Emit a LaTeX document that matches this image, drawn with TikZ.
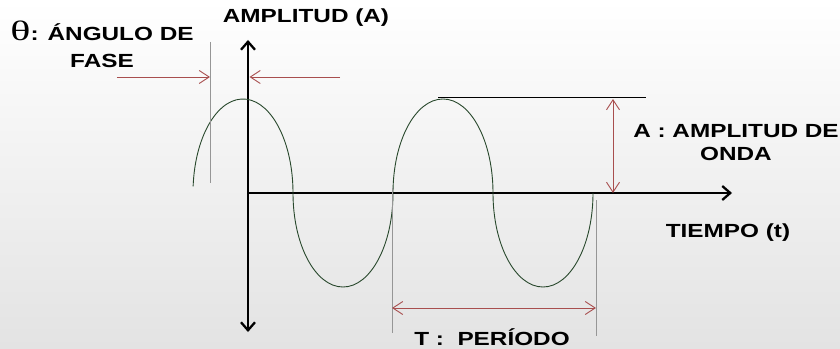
\documentclass[tikz,border=0pt]{standalone}
\usepackage{fontspec}
\setmainfont{Liberation Sans}
\newfontfamily\lblfont[FakeStretch=1.28]{Liberation Sans}
\newfontfamily\thfont[FakeStretch=1.5]{Liberation Serif}
\usepackage{tikz}
\usetikzlibrary{arrows.meta}
\tikzset{every picture/.style={line width=0.75pt}}
\definecolor{wavegreen}{RGB}{40,72,44}
\definecolor{dimred}{RGB}{168,78,78}
\definecolor{guidegray}{RGB}{150,150,150}
\tikzset{
  lbl/.style={font=\lblfont\bfseries\fontsize{19}{24}\selectfont, inner sep=0pt},
  barb/.tip={Straight Barb[length=10pt,width=13pt]},
  axtip/.tip={Straight Barb[length=8pt,width=14pt]},
  dimarrow/.style={dimred, line width=0.9pt},
  guide/.style={guidegray, line width=0.8pt},
  axis/.style={line width=2.3pt}
}

\begin{document}
\begin{tikzpicture}[x=1pt,y=1pt]
\shade[top color=white, bottom color=black!11] (-248,-155) rectangle (592,193);
\useasboundingbox (-248,-155) rectangle (592,193);

\coordinate (yt) at (0,153);
\coordinate (yb) at (0,-139);
\coordinate (o) at (0,0);
\coordinate (xr) at (484,0);
\draw[axis, axtip-axtip] (yt) -- (yb);
\draw[axis, -axtip] (o) -- (xr);

\coordinate (w0) at ({-5+50*cos(176)},{94*sin(176)});
\draw[wavegreen, line width=0.9pt] (w0)
  arc[start angle=176, end angle=0, x radius=50, y radius=94]
  arc[start angle=180, end angle=360, x radius=50, y radius=94]
  arc[start angle=180, end angle=0, x radius=50, y radius=94]
  arc[start angle=180, end angle=360, x radius=50, y radius=94];

\coordinate (ph t) at (-38,151);
\coordinate (ph b) at (-38,10);
\coordinate (ph l) at (-131,116);
\coordinate (ph m) at (-38,116);
\coordinate (ph r) at (92,116);
\coordinate (ph a) at (1.5,116);
\draw[guide] (ph t) -- (ph b);
\draw[dimarrow, -barb] (ph l) -- (ph m);
\draw[dimarrow, -barb] (ph r) -- (ph a);

\coordinate (pk l) at (190,96);
\coordinate (pk r) at (398,96);
\coordinate (amp t) at (365,94);
\coordinate (amp b) at (365,0);
\draw (pk l) -- (pk r);
\draw[dimarrow, barb-barb] (amp t) -- (amp b);

\coordinate (t1 t) at (144,5);
\coordinate (t1 b) at (144,-140);
\coordinate (t2 t) at (348,-7);
\coordinate (t2 b) at (348,-143);
\coordinate (t1) at (144,-115);
\coordinate (t2) at (348,-115);
\draw[guide] (t1 t) -- (t1 b);
\draw[guide] (t2 t) -- (t2 b);
\draw[dimarrow, barb-barb] (t1) -- (t2);

\node[lbl, anchor=base] (ampl) at (58,170) {AMPLITUD (A)};
\node[lbl, align=center, font=\lblfont\bfseries\fontsize{19}{27}\selectfont] (phase) at (-146,149)
  {{\thfont\mdseries\fontsize{28}{27}\selectfont θ}: ÁNGULO DE\\FASE};
\node[lbl, align=center, font=\lblfont\bfseries\fontsize{19}{23}\selectfont] (amptxt) at (488,50) {A : AMPLITUD DE\\ONDA};
\node[lbl, anchor=base] (time) at (480,-44) {TIEMPO (t)};
\node[lbl, anchor=base] (period) at (244,-152) {T :\ \ PERÍODO};
\end{tikzpicture}
\end{document}
